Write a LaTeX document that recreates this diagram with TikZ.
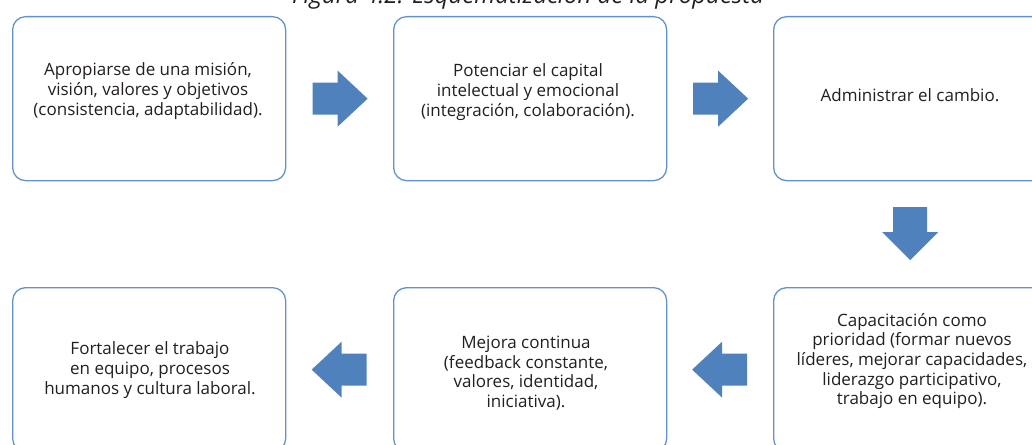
\documentclass[tikz,border=0pt]{standalone}
\usepackage{fontspec}
\setmainfont{Open Sans}
\usetikzlibrary{calc}
\definecolor{boxline}{RGB}{98,146,206}
\definecolor{arrowblue}{RGB}{79,129,189}
\definecolor{txt}{RGB}{35,31,32}
\begin{document}
\begin{tikzpicture}[x=1pt,y=-1pt,
  stepbox/.style={draw=boxline, line width=1.3pt, rounded corners=13pt, fill=white,
    minimum width=273pt, minimum height=164pt, inner sep=0pt, anchor=north west},
  boxtext/.style={align=center, text=txt, font=\fontsize{17}{19.7}\selectfont, inner sep=0pt},
  blockarrow/.style={fill=arrowblue, draw=none}
]
\useasboundingbox (0,0) rectangle (1032,444);
% title (cut off at top)
\node[anchor=base, text=txt, font=\fontsize{24}{28}\selectfont\itshape, inner sep=0pt] (title) at (528,4) {Figura 4.2. Esquematización de la propuesta};
% boxes
\node[stepbox] (b1) at (12,16) {};
\node[stepbox] (b2) at (393,16) {};
\node[stepbox] (b3) at (773,16) {};
\node[stepbox] (b4) at (773,287) {};
\node[stepbox] (b5) at (393,287) {};
\node[stepbox] (b6) at (12,287) {};
% texts
\node[boxtext] (t1) at (148,91) {Apropiarse de una misión,\\visión, valores y objetivos\\(consistencia, adaptabilidad).};
\node[boxtext] (t2) at (528,92) {Potenciar el capital\\intelectual y emocional\\(integración, colaboración).};
\node[boxtext] (t3) at (910,95) {Administrar el cambio.};
\node[boxtext] (t4) at (912,361) {Capacitación como\\prioridad (formar nuevos\\líderes, mejorar capacidades,\\liderazgo participativo,\\trabajo en equipo).};
\node[boxtext] (t5) at (526,373) {Mejora continua\\(feedback constante,\\valores, identidad,\\iniciativa).};
\node[boxtext] (t6) at (150,370) {Fortalecer el trabajo\\en equipo, procesos\\humanos y cultura laboral.};
% block arrows
\coordinate (m12) at ($(b1.east)!0.5!(b2.west)$);
\coordinate (m23) at ($(b2.east)!0.5!(b3.west)$);
\coordinate (m34) at ($(b3.south)!0.5!(b4.north)$);
\coordinate (m45) at ($(b4.west)!0.5!(b5.east)$);
\coordinate (m56) at ($(b5.west)!0.5!(b6.east)$);
\fill[blockarrow] (m12) ++(-27,-16) -- ++(25,0) -- ++(0,-12) -- ++(30,28) -- ++(-30,28) -- ++(0,-12) -- ++(-25,0) -- cycle;
\fill[blockarrow] (m23) ++(-27,-16) -- ++(25,0) -- ++(0,-12) -- ++(30,28) -- ++(-30,28) -- ++(0,-12) -- ++(-25,0) -- cycle;
\fill[blockarrow] (m34) ++(-17,-27) -- ++(0,25) -- ++(-11,0) -- ++(28,28) -- ++(28,-28) -- ++(-11,0) -- ++(0,-25) -- cycle;
\fill[blockarrow] (m45) ++(27,-16) -- ++(-25,0) -- ++(0,-12) -- ++(-30,28) -- ++(30,28) -- ++(0,-12) -- ++(25,0) -- cycle;
\fill[blockarrow] (m56) ++(27,-16) -- ++(-25,0) -- ++(0,-12) -- ++(-30,28) -- ++(30,28) -- ++(0,-12) -- ++(25,0) -- cycle;
\end{tikzpicture}
\end{document}
